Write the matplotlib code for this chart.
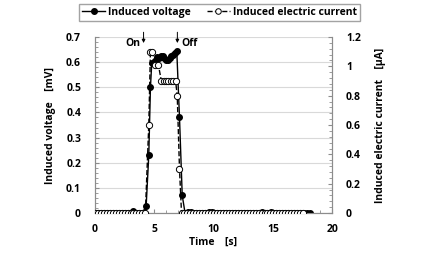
import numpy as np
import matplotlib
matplotlib.use("Agg")
import matplotlib.pyplot as plt
from matplotlib.ticker import MultipleLocator
from matplotlib.lines import Line2D

plt.rcParams['font.family'] = ['Open Sans', 'DejaVu Sans']
plt.rcParams['font.weight'] = 'bold'

# induced voltage [mV]
v_time = list(np.arange(0, 4.01, 0.25)) + [4.32, 4.54, 4.68, 4.79, 4.95, 5.1, 5.25, 5.4, 5.55,
                                           5.7, 5.85, 6.0, 6.15, 6.3, 6.45, 6.6, 6.75, 6.9,
                                           7.13, 7.36] + list(np.arange(7.6, 18.26, 0.25))
v_base_before = [0, 0, 0, 0, 0, 0, 0, 0, 0, 0, 0, 0, 0, 0.01, 0, 0, 0]
v_active = [0.03, 0.23, 0.5, 0.596, 0.6, 0.605, 0.62, 0.615, 0.625, 0.625, 0.615, 0.61, 0.61,
            0.615, 0.625, 0.63, 0.635, 0.645, 0.38, 0.07]
v_after = [0.0] * len(np.arange(7.6, 18.26, 0.25))
for t_bump in [7.85, 8.1, 9.6, 9.85, 14.1, 14.85]:
    v_after[int(round((t_bump - 7.6) / 0.25))] = 0.006
voltage = v_base_before + v_active + v_after

# induced electric current [uA]
i_time = list(np.arange(0, 4.26, 0.25)) + [4.54, 4.68, 4.85, 5.1, 5.35, 5.6, 5.8, 6.0, 6.2,
                                           6.4, 6.6, 6.8, 6.94, 7.13] + list(np.arange(7.3, 17.76, 0.25))
current = ([0.0] * len(np.arange(0, 4.26, 0.25))
           + [0.6, 1.1, 1.1, 1.01, 1.01, 0.9, 0.9, 0.9, 0.9, 0.9, 0.9, 0.9, 0.8, 0.3]
           + [0.0] * len(np.arange(7.3, 17.76, 0.25)))

fig = plt.figure(figsize=(4.22, 2.57), dpi=100)
ax = fig.add_axes([0.225, 0.171, 0.562, 0.685])
ax2 = ax.twinx()

ax.plot(v_time, voltage, '-o', color='black', lw=1.0, ms=4, zorder=3)
ax2.plot(i_time, current, '--o', color='black', lw=1.0, ms=4.5, mfc='white', mew=0.7, zorder=4)

ax.set_xlim(0, 20)
ax.set_ylim(0, 0.7)
ax2.set_ylim(0, 1.2)
ax.xaxis.set_major_locator(MultipleLocator(5))
ax.xaxis.set_minor_locator(MultipleLocator(1))
ax.yaxis.set_major_locator(MultipleLocator(0.1))
ax.yaxis.set_minor_locator(MultipleLocator(0.02))
ax2.yaxis.set_major_locator(MultipleLocator(0.2))
ax2.yaxis.set_minor_locator(MultipleLocator(0.04))

ax.yaxis.set_major_formatter(plt.FuncFormatter(lambda y, p: '0' if y == 0 else f'{y:.1f}'))
ax2.yaxis.set_major_formatter(plt.FuncFormatter(lambda y, p: '0' if y == 0 else ('1' if abs(y - 1) < 1e-9 else f'{y:.1f}')))

ax.grid(axis='y', color='#d9d9d9', lw=0.8)
ax.set_axisbelow(True)
for a in (ax, ax2):
    for s in a.spines.values():
        s.set_color('#8c8c8c')
        s.set_linewidth(0.8)
    a.tick_params(which='both', direction='in', color='#8c8c8c', labelsize=7.5)
    a.tick_params(which='major', length=3)
    a.tick_params(which='minor', length=2)
ax.tick_params(axis='x', pad=8)
ax.tick_params(axis='y', pad=10)
ax2.tick_params(axis='y', pad=10)
ax.spines['top'].set_visible(False)
ax2.spines['top'].set_visible(False)

ax.set_xlabel('Time\u3000[s]', fontsize=7.5, fontweight='bold', labelpad=1,
              family=['Open Sans', 'Noto Sans CJK JP'])
ax.set_ylabel('Induced voltage\u3000[mV]', fontsize=7.5, fontweight='bold', labelpad=7,
              family=['Open Sans', 'Noto Sans CJK JP'])
ax2.set_ylabel('Induced electric current\u3000[\u03bcA]', fontsize=7.5, fontweight='bold', labelpad=10,
               family=['Open Sans', 'Noto Sans CJK JP'])

# On / Off markers
ax.annotate('', xy=(4.1, 0.665), xytext=(4.1, 0.73), annotation_clip=False,
            arrowprops=dict(arrowstyle='-|>', color='black', lw=0.7, mutation_scale=5))
ax.text(3.85, 0.675, 'On', ha='right', va='center', fontsize=7.5, fontweight='bold')
ax.annotate('', xy=(6.95, 0.665), xytext=(6.95, 0.73), annotation_clip=False,
            arrowprops=dict(arrowstyle='-|>', color='black', lw=0.7, mutation_scale=5))
ax.text(7.25, 0.675, 'Off', ha='left', va='center', fontsize=7.5, fontweight='bold')

handles = [Line2D([], [], color='black', lw=1.0, marker='o', ms=4),
           Line2D([], [], color='black', lw=1.0, ls='--', marker='o', ms=4, mfc='white', mew=0.7)]
fig.legend(handles, ['Induced voltage', 'Induced electric current'], loc='upper center',
           bbox_to_anchor=(0.52, 1.005), ncol=2, fontsize=7.5, frameon=True, fancybox=False,
           edgecolor='#8c8c8c', handlelength=2.2, handletextpad=0.3, columnspacing=1.5,
           borderpad=0.3)

fig.savefig('out.png', dpi=100)
